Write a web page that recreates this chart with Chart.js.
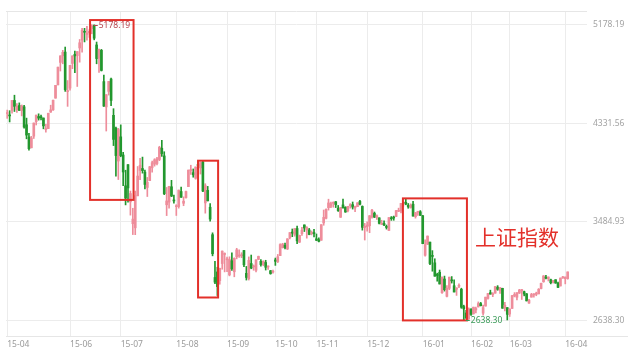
<!DOCTYPE html>
<html lang="zh">
<head>
  <meta charset="UTF-8" />
  <title>上证指数</title>
  <script src="https://cdn.jsdelivr.net/npm/chart.js"></script>
  <style>
    html, body { margin: 0; padding: 0; background: #fff; }
    #wrap { width: 640px; height: 360px; }
  </style>
</head>
<body>
  <div id="wrap"><canvas id="klineChart" width="640" height="360"></canvas></div>

  <script>
    // trading days (yy-mm-dd)
    const days = [
      '15-04-23','15-04-24','15-04-27','15-04-28','15-04-29','15-04-30',
      '15-05-04','15-05-05','15-05-06','15-05-07','15-05-08','15-05-11','15-05-12','15-05-13','15-05-14','15-05-15','15-05-18','15-05-19','15-05-20','15-05-21','15-05-22','15-05-25','15-05-26','15-05-27','15-05-28','15-05-29',
      '15-06-01','15-06-02','15-06-03','15-06-04','15-06-05','15-06-08','15-06-09','15-06-10','15-06-11','15-06-12','15-06-15','15-06-16','15-06-17','15-06-18','15-06-19','15-06-23','15-06-24','15-06-25','15-06-26','15-06-29','15-06-30',
      '15-07-01','15-07-02','15-07-03','15-07-06','15-07-07','15-07-08','15-07-09','15-07-10','15-07-13','15-07-14','15-07-15','15-07-16','15-07-17','15-07-20','15-07-21','15-07-22','15-07-23','15-07-24','15-07-27','15-07-28','15-07-29','15-07-30','15-07-31',
      '15-08-03','15-08-04','15-08-05','15-08-06','15-08-07','15-08-10','15-08-11','15-08-12','15-08-13','15-08-14','15-08-17','15-08-18','15-08-19','15-08-20','15-08-21','15-08-24','15-08-25','15-08-26','15-08-27','15-08-28','15-08-31',
      '15-09-01','15-09-02','15-09-07','15-09-08','15-09-09','15-09-10','15-09-11','15-09-14','15-09-15','15-09-16','15-09-17','15-09-18','15-09-21','15-09-22','15-09-23','15-09-24','15-09-25','15-09-28','15-09-29','15-09-30',
      '15-10-08','15-10-09','15-10-12','15-10-13','15-10-14','15-10-15','15-10-16','15-10-19','15-10-20','15-10-21','15-10-22','15-10-23','15-10-26','15-10-27','15-10-28','15-10-29','15-10-30',
      '15-11-02','15-11-03','15-11-04','15-11-05','15-11-06','15-11-09','15-11-10','15-11-11','15-11-12','15-11-13','15-11-16','15-11-17','15-11-18','15-11-19','15-11-20','15-11-23','15-11-24','15-11-25','15-11-26','15-11-27','15-11-30',
      '15-12-01','15-12-02','15-12-03','15-12-04','15-12-07','15-12-08','15-12-09','15-12-10','15-12-11','15-12-14','15-12-15','15-12-16','15-12-17','15-12-18','15-12-21','15-12-22','15-12-23','15-12-24','15-12-25','15-12-28','15-12-29','15-12-30','15-12-31',
      '16-01-04','16-01-05','16-01-06','16-01-07','16-01-08','16-01-11','16-01-12','16-01-13','16-01-14','16-01-15','16-01-18','16-01-19','16-01-20','16-01-21','16-01-22','16-01-25','16-01-26','16-01-27','16-01-28','16-01-29',
      '16-02-01','16-02-02','16-02-03','16-02-04','16-02-05','16-02-15','16-02-16','16-02-17','16-02-18','16-02-19','16-02-22','16-02-23','16-02-24','16-02-25','16-02-26','16-02-29',
      '16-03-01','16-03-02','16-03-03','16-03-04','16-03-07','16-03-08','16-03-09','16-03-10','16-03-11','16-03-14','16-03-15','16-03-16','16-03-17','16-03-18','16-03-21','16-03-22','16-03-23','16-03-24','16-03-25','16-03-28','16-03-29','16-03-30','16-03-31',
      '16-04-01','16-04-05'
    ];

    const openV = [
      4414,4396,4441,4527,4448,4483,
      4441,4472,4318,4213,4120,4220,4345,4389,4380,4376,4277,4285,4427,4446,4547,4661,4854,4911,4943,4603,
      4633,4845,4924,4912,4978,5046,5114,5094,5108,5144,5174,5004,4890,4958,4689,4471,4605,4711,4399,4289,4006,
      4214,4058,3793,3975,3655,3467,3432,3707,3925,3942,3911,3779,3838,3948,3979,3985,4019,4116,4050,3630,3653,3785,3667,
      3614,3615,3744,3643,3692,3786,3924,3906,3858,3977,3947,3998,3646,3754,3609,3373,3005,3053,2978,3125,3203,
      3157,3027,3149,3054,3182,3190,3191,3237,3041,2995,3125,3096,3067,3161,3144,3117,3134,3095,3063,3051,
      3156,3142,3193,3262,3281,3250,3347,3396,3376,3426,3309,3381,3457,3414,3414,3383,3383,
      3337,3330,3325,3474,3514,3605,3617,3642,3656,3600,3523,3629,3609,3578,3623,3631,3603,3614,3659,3616,3435,
      3442,3450,3525,3558,3523,3518,3461,3469,3445,3409,3511,3521,3530,3574,3576,3645,3651,3625,3607,3635,3528,3566,3570,
      3536,3196,3291,3309,3194,3131,3032,3050,2874,2992,2843,2912,2983,2934,2904,2929,2904,2755,2700,2649,
      2730,2693,2726,2752,2781,2698,2759,2825,2874,2857,2870,2922,2894,2912,2742,2746,
      2691,2739,2845,2835,2871,2889,2883,2864,2785,2836,2855,2860,2864,2910,2968,3006,2995,2986,2965,2986,2956,2932,3002,
      2995,2996
    ];

    const highV = [
      4444,4439,4529,4572,4499,4506,
      4488,4486,4375,4244,4218,4333,4401,4412,4401,4376,4322,4417,4486,4530,4657,4813,4911,4958,4986,4698,
      4829,4911,4951,4947,5051,5147,5147,5164,5136,5178.19,5176,5029,4969,4966,4744,4577,4691,4720,4456,4297,4287,
      4317,4080,3927,3975,3748,3600,3748,3959,4030,4040,3928,3865,3960,4006,4026,4037,4133,4184,4086,3779,3789,3840,3713,
      3631,3757,3782,3698,3748,3929,3970,3938,3955,4006,3994,4006,3811,3788,3641,3389,3144,3093,3085,3233,3217,
      3180,3183,3217,3174,3256,3243,3218,3238,3100,3182,3198,3113,3157,3189,3160,3149,3153,3105,3066,3069,
      3172,3203,3295,3299,3300,3338,3392,3422,3425,3448,3369,3437,3457,3442,3427,3405,3418,
      3379,3345,3459,3585,3596,3678,3654,3656,3659,3624,3607,3678,3613,3617,3640,3654,3619,3648,3669,3621,3470,
      3483,3538,3591,3568,3543,3518,3497,3493,3456,3521,3529,3533,3583,3601,3642,3654,3684,3641,3638,3660,3563,3573,3580,
      3539,3328,3362,3309,3236,3166,3042,3069,3010,3017,2936,3008,3013,2985,2916,2951,2913,2767,2723,2744,
      2738,2750,2750,2795,2791,2767,2836,2869,2896,2875,2928,2935,2919,2913,2792,2747,
      2736,2851,2875,2876,2903,2903,2888,2868,2818,2869,2866,2879,2910,2958,3022,3024,3010,2991,2980,2986,2965,3001,3016,
      3009,3053
    ];

    const lowV = [
      4373,4342,4418,4432,4423,4441,
      4394,4288,4197,4099,4119,4200,4316,4358,4360,4283,4255,4285,4424,4442,4546,4661,4780,4842,4605,4476,
      4616,4800,4765,4647,4856,4943,5030,5046,5069,5100,5048,4842,4767,4780,4476,4264,4573,4483,4139,3876,3847,
      4043,3795,3629,3653,3541,3374,3373,3707,3845,3902,3767,3701,3838,3910,3962,3972,4009,4046,3717,3537,3600,3700,3643,
      3538,3601,3693,3622,3687,3786,3891,3867,3850,3939,3894,3743,3558,3663,3490,3191,2952,2850,2947,3076,3053,
      3054,3019,3066,3011,3165,3178,3175,3099,2983,2983,3080,3067,3052,3159,3102,3106,3069,3075,3033,3042,
      3109,3133,3193,3258,3251,3245,3337,3356,3360,3296,3305,3366,3400,3343,3372,3371,3353,
      3322,3311,3325,3454,3508,3584,3606,3609,3606,3573,3521,3601,3565,3569,3601,3593,3571,3614,3629,3412,3327,
      3403,3390,3515,3520,3504,3465,3460,3451,3421,3409,3496,3497,3528,3571,3561,3618,3630,3600,3601,3533,3515,3538,3538,
      3295,3189,3288,3115,3059,3016,2973,2949,2867,2888,2839,2900,2957,2880,2851,2918,2740,2638.30,2655,2643,
      2679,2690,2701,2751,2760,2682,2759,2818,2862,2840,2870,2895,2868,2740,2717,2640,
      2670,2739,2838,2813,2867,2816,2847,2803,2782,2836,2835,2848,2864,2907,2964,2993,2975,2950,2957,2955,2917,2932,2997,
      2950,2990
    ];

    const closeV = [
      4414,4394,4527,4476,4476,4441,
      4480,4298,4229,4112,4205,4333,4401,4375,4378,4308,4283,4417,4446,4529,4657,4813,4910,4941,4620,4611,
      4828,4910,4910,4947,5023,5131,5113,5106,5121,5166,5062,4887,4967,4785,4478,4576,4690,4527,4192,4053,4277,
      4053,3912,3687,3775,3727,3507,3709,3877,3970,3924,3805,3823,3957,3992,4017,4026,4124,4070,3725,3663,3789,3705,3663,
      3622,3756,3695,3661,3744,3928,3928,3887,3955,3965,3993,3748,3794,3664,3507,3209,2965,2927,3084,3232,3206,
      3166,3160,3080,3170,3243,3197,3200,3114,3005,3152,3086,3098,3157,3186,3116,3143,3093,3100,3039,3053,
      3144,3183,3288,3293,3263,3338,3391,3386,3425,3320,3368,3412,3430,3434,3375,3387,3382,
      3325,3316,3459,3522,3590,3646,3640,3650,3632,3580,3606,3604,3568,3617,3630,3610,3616,3647,3635,3436,3445,
      3456,3536,3584,3524,3536,3470,3472,3456,3435,3520,3510,3516,3580,3578,3642,3651,3636,3612,3627,3533,3563,3572,3539,
      3296,3287,3361,3125,3186,3016,3022,2949,3007,2900,2913,3008,2976,2880,2916,2938,2749,2735,2655,2737,
      2688,2750,2739,2781,2763,2746,2836,2867,2862,2860,2927,2903,2918,2741,2767,2688,
      2733,2849,2859,2874,2897,2901,2863,2804,2810,2859,2864,2870,2904,2955,3018,2999,3009,2960,2979,2957,2920,3000,3004,
      3009,3053
    ];

    const yTicks = [2638.30, 3484.93, 4331.56, 5178.19];
    const monthTicks = ['15-04','15-06','15-07','15-08','15-09','15-10','15-11','15-12','16-01','16-02','16-03','16-04'];
    const title = '上证指数';

    const UP = '#ee8d9b';
    const DOWN = '#22972e';
    const candleColors = closeV.map((c, i) => c >= openV[i] ? UP : DOWN);
    const tickIdx = monthTicks.map(m => days.findIndex(d => d.startsWith(m)));

    // highlighted periods, in (day index, index value)
    const boxes = [
      { from: 34.3, to: 52.3, top: 5218, bottom: 3672 },
      { from: 79.0, to: 87.3, top: 4009, bottom: 2833 },
      { from: 163.8, to: 190.3, top: 3685, bottom: 2636 }
    ];

    const marks = {
      id: 'marks',
      afterDatasetsDraw(chart) {
        const { ctx, chartArea: a, scales: { x, y } } = chart;
        ctx.save();

        // top / bottom frame lines
        ctx.strokeStyle = '#e6e6e6';
        ctx.lineWidth = 1;
        ctx.beginPath();
        ctx.moveTo(a.left, Math.round(a.top) + 0.5);
        ctx.lineTo(a.right, Math.round(a.top) + 0.5);
        ctx.moveTo(a.left, Math.round(a.bottom) + 0.5);
        ctx.lineTo(628, Math.round(a.bottom) + 0.5);
        ctx.stroke();

        // red boxes
        ctx.strokeStyle = '#e3302a';
        ctx.lineWidth = 2;
        boxes.forEach(b => {
          const l = x.getPixelForValue(b.from), r = x.getPixelForValue(b.to);
          const t = y.getPixelForValue(b.top), btm = y.getPixelForValue(b.bottom);
          ctx.strokeRect(l, t, r - l, btm - t);
        });

        // max / min labels
        const hi = Math.max(...highV), lo = Math.min(...lowV);
        const iHi = highV.indexOf(hi), iLo = lowV.indexOf(lo);
        ctx.font = '8.5px "Noto Sans"';
        ctx.textBaseline = 'middle';
        ctx.textAlign = 'left';
        ctx.lineWidth = 1;
        [[iHi, hi, '#b6424c'], [iLo, lo, '#3a9a58']].forEach(([i, v, col]) => {
          const px = x.getPixelForValue(i), py = y.getPixelForValue(v);
          ctx.strokeStyle = col;
          ctx.fillStyle = col;
          ctx.beginPath();
          ctx.moveTo(px + 2, Math.round(py) + 0.5);
          ctx.lineTo(px + 6, Math.round(py) + 0.5);
          ctx.stroke();
          ctx.fillText(v.toFixed(2), px + 7, py + 0.5);
        });

        // title text
        ctx.font = '21px "Noto Sans CJK SC"';
        ctx.fillStyle = '#e3302a';
        ctx.fillText(title, x.getPixelForValue(193.6), y.getPixelForValue(3353));
        ctx.restore();
      }
    };

    const ctx = document.getElementById('klineChart').getContext('2d');
    new Chart(ctx, {
      type: 'bar',
      data: {
        datasets: [
          {
            label: 'body',
            data: days.map((d, i) => ({ x: i, y: [openV[i], closeV[i]] })),
            backgroundColor: candleColors,
            barThickness: 2,
            minBarLength: 1,
            grouped: false
          },
          {
            label: 'wick',
            data: days.map((d, i) => ({ x: i, y: [lowV[i], highV[i]] })),
            backgroundColor: candleColors,
            barThickness: 1,
            grouped: false
          }
        ]
      },
      options: {
        responsive: false,
        animation: false,
        devicePixelRatio: 1,
        layout: { padding: { left: 6, top: 8, right: 0, bottom: 0 } },
        plugins: {
          legend: { display: false },
          tooltip: { enabled: false }
        },
        scales: {
          x: {
            type: 'linear',
            min: -0.5,
            max: 240,
            offset: false,
            afterFit: s => { s.height = 24; },
            afterBuildTicks: s => { s.ticks = tickIdx.map(v => ({ value: v })); },
            ticks: {
              callback: v => days[v] ? days[v].slice(0, 5) : '',
              align: 'start',
              autoSkip: false,
              maxRotation: 0,
              padding: 3,
              color: '#9b9b9b',
              font: { family: 'Noto Sans', size: 8.5 }
            },
            grid: { color: '#ececec', drawTicks: false, offset: false },
            border: { display: false }
          },
          y: {
            position: 'right',
            min: 2502,
            max: 5295,
            afterFit: s => { s.width = 53; },
            afterBuildTicks: s => { s.ticks = yTicks.map(v => ({ value: v })); },
            ticks: {
              callback: v => v.toFixed(2),
              padding: 6,
              color: '#a3a3a3',
              font: { family: 'Noto Sans', size: 8.5 }
            },
            grid: { color: '#ececec', drawTicks: false },
            border: { display: false }
          }
        }
      },
      plugins: [marks]
    });
  </script>
</body>
</html>
